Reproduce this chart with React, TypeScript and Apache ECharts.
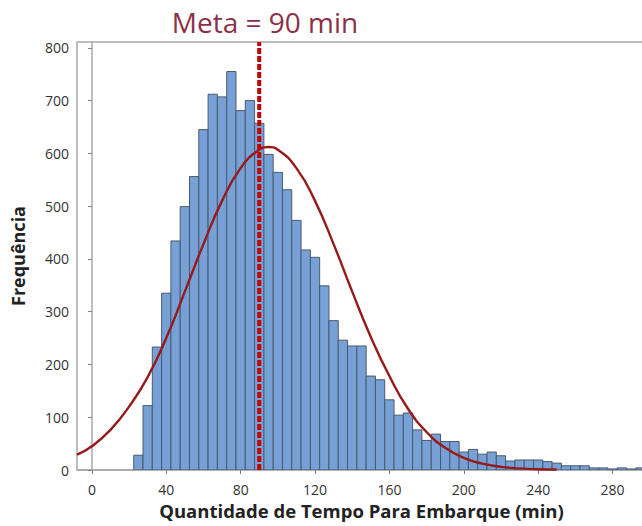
import React, { useEffect, useRef } from 'react';
import * as echarts from 'echarts';

// Histogram bins (centre of each 5-minute bin) and counts
const binCenters = [
  25, 30, 35, 40, 45, 50, 55, 60, 65, 70, 75, 80, 85, 90, 95, 100, 105, 110, 115, 120,
  125, 130, 135, 140, 145, 150, 155, 160, 165, 170, 175, 180, 185, 190, 195, 200, 205,
  210, 215, 220, 225, 230, 235, 240, 245, 250, 255, 260, 265, 270, 275, 280, 285, 290, 295,
];
const frequencies = [
  28, 122, 233, 335, 434, 499, 556, 645, 712, 707, 755, 681, 700, 657, 598, 564, 531, 473, 417, 403,
  349, 283, 246, 235, 235, 178, 171, 133, 104, 108, 76, 56, 68, 54, 54, 34, 39,
  30, 34, 27, 17, 19, 19, 19, 16, 13, 8, 8, 8, 4, 4, 2, 4, 2, 4,
];

// Fitted curve
const fitX = [-8, 0, 10, 20, 30, 40, 50, 60, 70, 80, 90, 95, 100, 110, 120, 130, 140, 150, 160, 170, 180, 190, 200, 210, 220, 230, 240, 250];
const fitY = [29, 45, 76, 120, 176, 250, 338, 428, 510, 572, 607, 612, 607, 572, 510, 428, 338, 252, 178, 116, 72, 42, 23, 12, 6, 3, 1.5, 1];

const xTicks = [0, 40, 80, 120, 160, 200, 240, 280];
const yTicks = [0, 100, 200, 300, 400, 500, 600, 700, 800];
const metaValue = 90;
const binWidth = 5;

const FONT = '"Open Sans", "Noto Sans", sans-serif';

export default function App() {
  const ref = useRef<HTMLDivElement>(null);
  useEffect(() => {
    document.body.style.margin = '0';
    const chart = echarts.init(ref.current as HTMLDivElement, null, { renderer: 'svg' });
    chart.setOption({
      animation: false,
      grid: {
        left: 77,
        top: 42,
        right: -4,
        bottom: 56,
        outerBoundsMode: 'none',
        containLabel: false,
        show: true,
        borderColor: '#a8a8a8',
        borderWidth: 1.5,
        backgroundColor: '#ffffff',
      },
      graphic: [
        {
          type: 'text',
          x: 265,
          y: 22,
          style: {
            text: 'Meta = 90 min',
            fill: '#8b3048',
            font: `28px ${FONT}`,
            textAlign: 'center',
            textVerticalAlign: 'middle',
          },
        },
      ],
      xAxis: {
        type: 'value',
        min: -8,
        max: 298,
        splitLine: { show: false },
        axisLine: { show: true, onZero: false, lineStyle: { color: '#a8a8a8', width: 1.5 } },
        axisTick: { show: true, customValues: xTicks, length: 4, lineStyle: { color: '#808080' } },
        axisLabel: { customValues: xTicks, fontSize: 14, color: '#333', margin: 12, fontFamily: FONT },
        name: 'Quantidade de Tempo Para Embarque (min)',
        nameLocation: 'middle',
        nameGap: 31,
        nameTextStyle: { fontSize: 18.5, fontWeight: 'bold', color: '#222', fontFamily: FONT },
      },
      yAxis: {
        type: 'value',
        min: 0,
        max: 811,
        splitLine: { show: false },
        axisLine: { show: true, lineStyle: { color: '#a8a8a8', width: 1.5 } },
        axisTick: { show: true, customValues: yTicks, length: 4, lineStyle: { color: '#808080' } },
        axisLabel: { customValues: yTicks, fontSize: 14, color: '#333', margin: 8, fontFamily: FONT },
        name: 'Frequência',
        nameLocation: 'middle',
        nameGap: 50,
        nameTextStyle: { fontSize: 18, fontWeight: 'bold', color: '#222', fontFamily: FONT },
      },
      series: [
        {
          type: 'custom',
          clip: true,
          data: binCenters.map((c, i) => [c, frequencies[i]]),
          encode: { x: 0, y: 1 },
          renderItem: (params: any, api: any) => {
            const x = api.value(0);
            const y = api.value(1);
            const p0 = api.coord([x - binWidth / 2, y]);
            const p1 = api.coord([x + binWidth / 2, 0]);
            return {
              type: 'rect',
              shape: { x: p0[0], y: p0[1], width: p1[0] - p0[0], height: p1[1] - p0[1] },
              style: { fill: '#76a0d6', stroke: '#4b5a6b', lineWidth: 1 },
            };
          },
          z: 2,
        },
        {
          type: 'line',
          data: fitX.map((x, i) => [x, fitY[i]]),
          smooth: true,
          showSymbol: false,
          symbol: 'none',
          lineStyle: { color: '#961a1a', width: 2.4 },
          z: 3,
        },
        {
          type: 'line',
          data: [[metaValue, 0], [metaValue, 811]],
          showSymbol: false,
          symbol: 'none',
          lineStyle: { color: '#c40000', width: 4, type: [6, 2] },
          z: 4,
        },
      ],
    });
    return () => chart.dispose();
  }, []);
  return <div ref={ref} style={{ width: 642, height: 526 }} />;
}
